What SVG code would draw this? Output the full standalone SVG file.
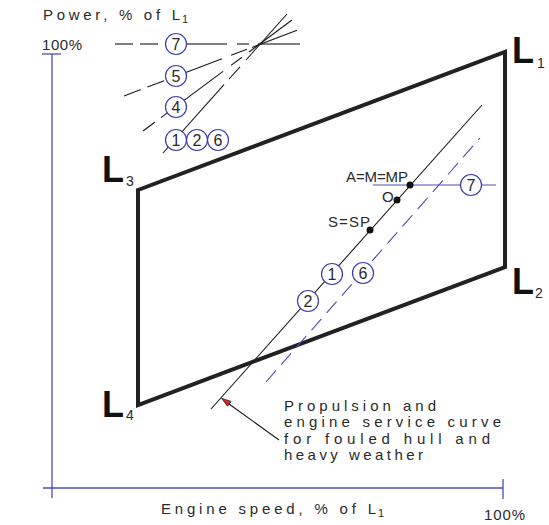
<svg xmlns="http://www.w3.org/2000/svg" width="549" height="525" viewBox="0 0 549 525">
<style>
  .t { font-family: "Liberation Sans", Arial, sans-serif; fill: #2a2a2a; font-size: 15px; }
  .sub { font-family: "Liberation Sans", Arial, sans-serif; fill: #2a2a2a; font-size: 11px; }
  .big { font-family: "Liberation Sans", Arial, sans-serif; fill: #111; font-size: 36px; font-weight: bold; }
  .bsub { font-family: "Liberation Sans", Arial, sans-serif; fill: #2a2a2a; font-size: 14px; }
  .axis { stroke: #4c4cb4; stroke-width: 1.3; fill: none; }
  .env { stroke: #222; stroke-width: 4; fill: none; stroke-linejoin: miter; }
  .ln { stroke: #1a1a1a; stroke-width: 1.1; fill: none; }
  .ln7 { stroke: #555; stroke-width: 1.5; fill: none; }
  .dsh { stroke-dasharray: 18 7; }
  .bdsh { stroke: #4c4cb4; stroke-width: 1.1; fill: none; stroke-dasharray: 15 8; }
  .bl { stroke: #4c4cb4; stroke-width: 1.1; fill: none; }
  .c { fill: #fff; stroke: #3c3cb0; stroke-width: 1.2; }
  .cn { font-family: "Liberation Sans", Arial, sans-serif; fill: #2a2a2a; font-size: 16px; text-anchor: middle; }
  .pt { fill: #111; }
</style>

<g id="axes">
  <line class="axis" x1="52" y1="54" x2="52" y2="498"/>
  <line class="axis" x1="42" y1="54" x2="61" y2="54"/>
  <line class="axis" x1="43" y1="488" x2="503" y2="488"/>
  <line class="axis" x1="503" y1="479" x2="503" y2="499"/>
  <text class="t" x="43" y="20" textLength="137" lengthAdjust="spacing">Power, % of L</text>
  <text class="sub" x="182" y="23">1</text>
  <text class="t" x="42" y="50" textLength="40" lengthAdjust="spacing">100%</text>
  <text class="t" x="161" y="514" textLength="215" lengthAdjust="spacing">Engine speed, % of L</text>
  <text class="sub" x="378" y="517">1</text>
  <text class="t" x="484" y="520" textLength="41" lengthAdjust="spacing">100%</text>
</g>

<g id="envelope">
  <polygon class="env" points="138,190 505,52 505,267 138,405"/>
  <text class="big" x="512" y="63">L</text><text class="bsub" x="537" y="68">1</text>
  <text class="big" x="512" y="294">L</text><text class="bsub" x="535" y="298">2</text>
  <text class="big" x="102" y="182">L</text><text class="bsub" x="126" y="186">3</text>
  <text class="big" x="102" y="417">L</text><text class="bsub" x="126" y="420">4</text>
</g>

<g id="connectors">
  <line class="ln" x1="211" y1="409" x2="482" y2="105"/>
  <line class="bdsh" x1="266" y1="382" x2="480" y2="138"/>
  <line class="bl" x1="373" y1="185" x2="496" y2="185"/>
  <line class="ln" x1="229" y1="404" x2="279" y2="440"/>
  <polygon points="221.5,398.3 231.1,401.4 227.5,406.2" fill="#e02020" stroke="#222" stroke-width="0.8"/>

  <line class="ln7 dsh" x1="115" y1="44" x2="166" y2="44"/>
  <line class="ln7" x1="166" y1="44" x2="227" y2="44"/>
  <line class="ln7" x1="237" y1="44" x2="249" y2="44"/>
  <line class="ln7" x1="258" y1="44" x2="300" y2="44"/>

  <line class="ln dsh" x1="124" y1="96" x2="166" y2="80"/>
  <line class="ln" x1="166" y1="80" x2="222" y2="58.8"/>
  <line class="ln" x1="231" y1="55.3" x2="247" y2="49.3"/>
  <line class="ln" x1="252" y1="47.4" x2="297" y2="30.3"/>

  <line class="ln" x1="143" y1="131" x2="155" y2="122"/>
  <line class="ln" x1="161" y1="117.6" x2="176" y2="106.4"/>
  <line class="ln" x1="176" y1="106.4" x2="223" y2="71.4"/>
  <line class="ln" x1="231" y1="65.4" x2="242" y2="57.2"/>
  <line class="ln" x1="249" y1="52" x2="292" y2="20"/>

  <line class="ln" x1="163" y1="153" x2="224" y2="84.7"/>
  <line class="ln" x1="229" y1="79" x2="240" y2="66.8"/>
  <line class="ln" x1="246" y1="60" x2="287" y2="14"/>
</g>

<g id="legend-7"><circle class="c" cx="176" cy="44" r="10.5"/><text class="cn" x="176" y="49.8">7</text></g>
<g id="legend-5"><circle class="c" cx="176" cy="76" r="10.5"/><text class="cn" x="176" y="81.8">5</text></g>
<g id="legend-4"><circle class="c" cx="176" cy="107" r="10.5"/><text class="cn" x="176" y="112.8">4</text></g>
<g id="legend-1"><circle class="c" cx="176" cy="140" r="10.5"/><text class="cn" x="176" y="145.8">1</text></g>
<g id="legend-2"><circle class="c" cx="197" cy="140" r="10.5"/><text class="cn" x="197" y="145.8">2</text></g>
<g id="legend-6"><circle class="c" cx="218" cy="140" r="10.5"/><text class="cn" x="218" y="145.8">6</text></g>

<g id="curve-1"><circle class="c" cx="332" cy="274" r="10.5"/><text class="cn" x="332" y="279.8">1</text></g>
<g id="curve-2"><circle class="c" cx="308" cy="301" r="10.5"/><text class="cn" x="308" y="306.8">2</text></g>
<g id="curve-6"><circle class="c" cx="363" cy="273" r="10.5"/><text class="cn" x="363" y="278.8">6</text></g>
<g id="curve-7"><circle class="c" cx="471" cy="185" r="10.5"/><text class="cn" x="471" y="190.8">7</text></g>

<g id="point-A">
  <circle class="pt" cx="410" cy="185" r="3.5"/>
  <text class="t" x="346" y="182" textLength="62" lengthAdjust="spacing">A=M=MP</text>
</g>
<g id="point-O">
  <circle class="pt" cx="397" cy="200" r="3.5"/>
  <text class="t" x="382" y="202">O</text>
</g>
<g id="point-S">
  <circle class="pt" cx="370" cy="230" r="3.5"/>
  <text class="t" x="328" y="227" textLength="42" lengthAdjust="spacing">S=SP</text>
</g>

<g id="annotation">
  <text class="t" x="284" y="411" textLength="152" lengthAdjust="spacing">Propulsion and</text>
  <text class="t" x="284" y="427" textLength="217" lengthAdjust="spacing">engine service curve</text>
  <text class="t" x="284" y="444" textLength="206" lengthAdjust="spacing">for fouled hull and</text>
  <text class="t" x="284" y="460" textLength="139" lengthAdjust="spacing">heavy weather</text>
</g>
</svg>
